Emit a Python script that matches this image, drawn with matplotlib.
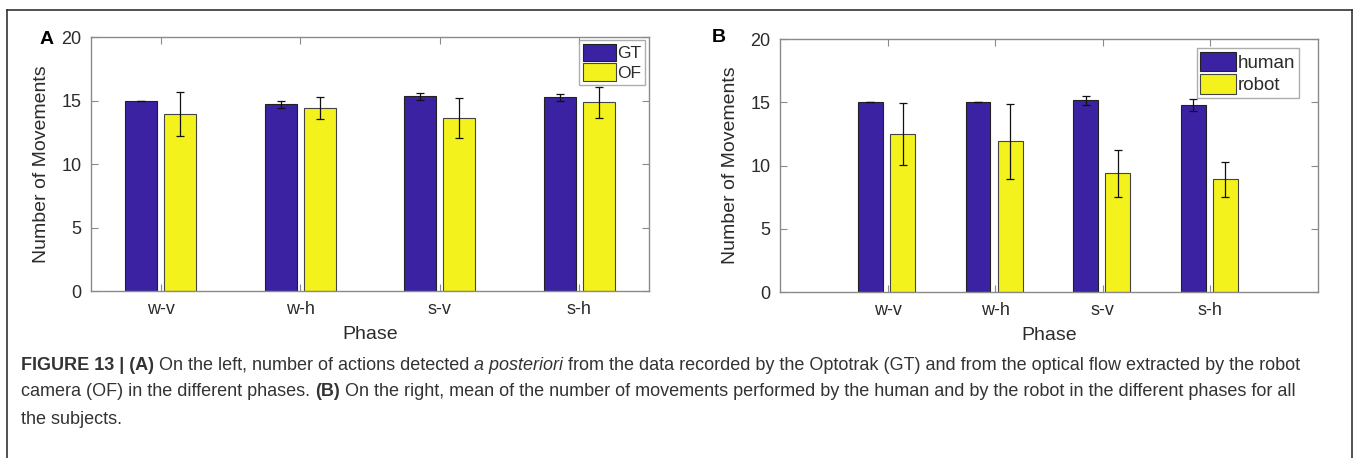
import matplotlib
matplotlib.use("Agg")
from matplotlib import pyplot as plt
from matplotlib.lines import Line2D
import numpy as np

# panel A: ground truth vs optical flow
phases = ["w-v", "w-h", "s-v", "s-h"]
gt_mean = [15.0, 14.7, 15.35, 15.25]
gt_err = [0.0, 0.28, 0.27, 0.27]
of_mean = [13.95, 14.45, 13.65, 14.85]
of_err = [1.75, 0.87, 1.57, 1.2]

# panel B: human vs robot
human_mean = [15.0, 15.0, 15.15, 14.75]
human_err = [0.0, 0.0, 0.35, 0.47]
robot_mean = [12.5, 11.9, 9.4, 8.9]
robot_err = [2.47, 2.95, 1.85, 1.37]

BLUE = "#3a22a2"
YELLOW = "#f4f21c"
SPINE = "#8a8a8a"
TXT = "#2b2b2b"

plt.rcParams["font.family"] = ["Liberation Sans", "DejaVu Sans"]

fig = plt.figure(figsize=(13.58, 4.58), dpi=100)


def grouped(ax, m1, e1, m2, e2, labels, off1, off2, width, xlim, legloc, legsize):
    x = np.arange(1, len(phases) + 1)
    ax.bar(x + off1, m1, width, color=BLUE, edgecolor="#222222", linewidth=0.8, label=labels[0], zorder=2)
    ax.bar(x + off2, m2, width, color=YELLOW, edgecolor="#444444", linewidth=0.8, label=labels[1], zorder=2)
    ax.errorbar(x + off1, m1, yerr=e1, fmt="none", ecolor="#111111", elinewidth=0.9, capsize=3.0, capthick=0.9, zorder=3)
    ax.errorbar(x + off2, m2, yerr=e2, fmt="none", ecolor="#111111", elinewidth=0.9, capsize=3.0, capthick=0.9, zorder=3)
    ax.set_xlim(*xlim)
    ax.set_ylim(0, 20)
    ax.set_xticks(x)
    ax.set_xticklabels(phases)
    ax.set_yticks([0, 5, 10, 15, 20])
    ax.tick_params(direction="in", top=True, right=True, length=5, width=0.8, color=SPINE,
                   labelsize=13, labelcolor=TXT, pad=7)
    for s in ax.spines.values():
        s.set_color(SPINE)
        s.set_linewidth(1.0)
    ax.set_xlabel("Phase", fontsize=14, color=TXT, labelpad=6)
    ax.set_ylabel("Number of Movements", fontsize=14, color=TXT, labelpad=8)
    leg = ax.legend(loc="upper right", bbox_to_anchor=legloc, fontsize=legsize, frameon=True,
                    fancybox=False, borderpad=0.2, handlelength=1.9, handleheight=1.2,
                    handletextpad=0.1, labelspacing=0.12, borderaxespad=0.0)
    leg.get_frame().set_edgecolor("#999999")
    leg.get_frame().set_linewidth(1.0)
    for t in leg.get_texts():
        t.set_color(TXT)
    return ax


axA = fig.add_axes([0.067, 0.3646, 0.411, 0.5544])
grouped(axA, gt_mean, gt_err, of_mean, of_err, ["GT", "OF"], -0.14, 0.14, 0.23, (0.5, 4.5), (0.993, 0.988), 12.5)

axB = fig.add_axes([0.5744, 0.3624, 0.3961, 0.5524])
grouped(axB, human_mean, human_err, robot_mean, robot_err, ["human", "robot"], -0.16, 0.14, 0.23, (0, 5), (0.965, 0.963), 13.5)

fig.text(40 / 1358, 1 - 40 / 458, "A", fontsize=14, fontweight="bold", va="center", ha="left")
fig.text(712 / 1358, 1 - 38 / 458, "B", fontsize=14, fontweight="bold", va="center", ha="left")

# outer frame
for xs, ys in [([7, 7], [458, 10]), ([7, 1352], [10, 10]), ([1352, 1352], [10, 458])]:
    fig.add_artist(Line2D([x / 1358 for x in xs], [1 - y / 458 for y in ys], color="#333333", lw=1.2))

# caption, built from styled runs placed one after another
cap_lines = [
    [("FIGURE 13 | (A)", "bold", "normal"), (" On the left, number of actions detected ", "normal", "normal"),
     ("a posteriori", "normal", "italic"),
     (" from the data recorded by the Optotrak (GT) and from the optical flow extracted by the robot", "normal", "normal")],
    [("camera (OF) in the different phases. ", "normal", "normal"), ("(B)", "bold", "normal"),
     (" On the right, mean of the number of movements performed by the human and by the robot in the different phases for all", "normal", "normal")],
    [("the subjects.", "normal", "normal")],
]
cap_y = [365, 392, 420]
for runs, y in zip(cap_lines, cap_y):
    prev = None
    for txt, wt, st in runs:
        kw = dict(fontsize=13.0, fontweight=wt, fontstyle=st, color="#333333", va="center", ha="left")
        if prev is None:
            prev = fig.text(21 / 1358, 1 - y / 458, txt, **kw)
        else:
            prev = fig.add_artist(plt.Annotation(txt, xy=(1, 0.5), xycoords=prev, **kw))

fig.savefig("out.png", dpi=100)
